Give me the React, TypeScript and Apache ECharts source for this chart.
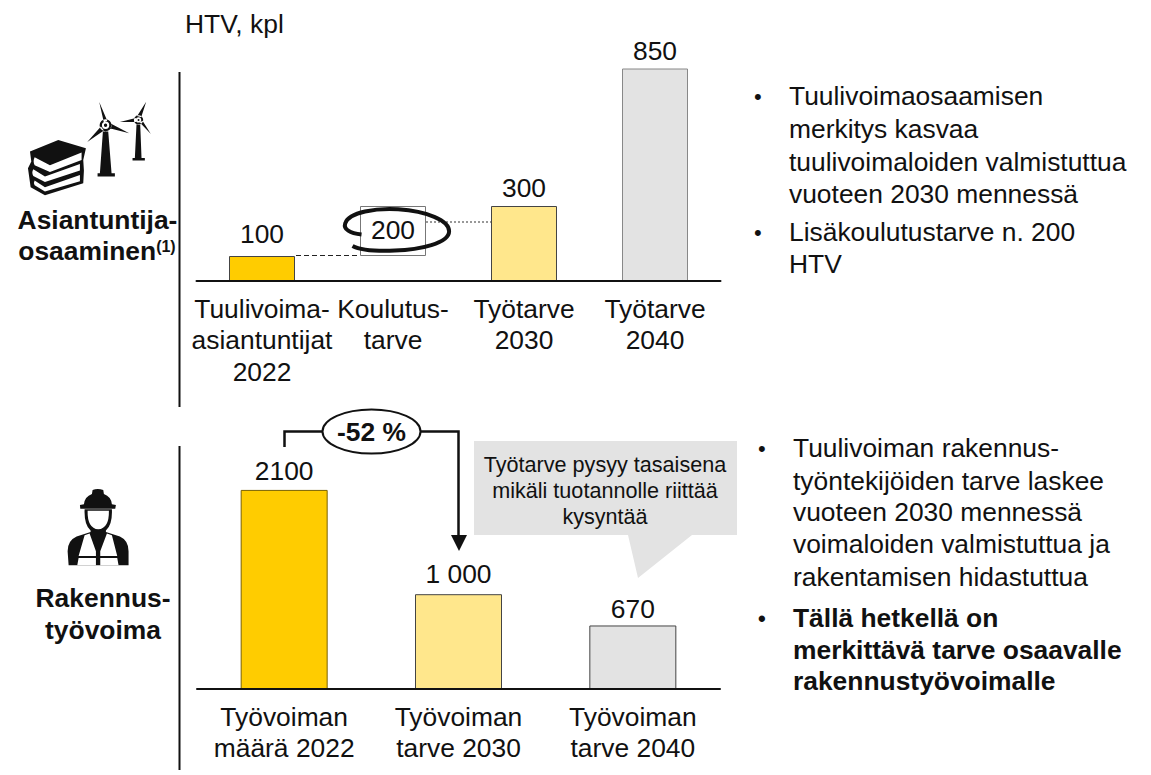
import React, { useEffect, useRef } from "react";
import * as echarts from "echarts";

const topCategories = ["Tuulivoima-\nasiantuntijat\n2022", "Koulutus-\ntarve", "Työtarve\n2030", "Työtarve\n2040"];
const topBase = [0, 100, 0, 0];
const topValues = [100, 200, 300, 850];
const bottomCategories = ["Työvoiman\nmäärä 2022", "Työvoiman\ntarve 2030", "Työvoiman\ntarve 2040"];
const bottomValues = [2100, 1000, 670];
const bottomLabels = ["2100", "1 000", "670"];
const topColors = ["#FFCC00", "#FFFFFF", "#FFE78C", "#E3E3E3"];
const bottomColors = ["#FFCC00", "#FFE78C", "#E3E3E3"];
const topBullets = [
  ["Tuulivoimaosaamisen", "merkitys kasvaa", "tuulivoimaloiden valmistuttua", "vuoteen 2030 mennessä"],
  ["Lisäkoulutustarve n. 200", "HTV"],
];
const bottomBulletA = ["Tuulivoiman rakennus-", "työntekijöiden tarve laskee", "vuoteen 2030 mennessä", "voimaloiden valmistuttua ja", "rakentamisen hidastuttua"];
const bottomBulletB = ["Tällä hetkellä on", "merkittävä tarve osaavalle", "rakennustyövoimalle"];
const calloutLines = ["Työtarve pysyy tasaisena", "mikäli tuotannolle riittää", "kysyntää"];
const topLabelGaps = [9, 5, 5, 5];
const bottomLabelGaps = [6, 7, 3];

const FONT = '"Liberation Sans", Arial, sans-serif';
const SIZE = 26.4;

echarts.graphic.registerShape("books", echarts.graphic.extendPath(
  "M90 215 L175 180 L258 205 L250 240 L252 272 L250 310 L135 346 L92 322 L84 265 L94 245 Z", {}));
echarts.graphic.registerShape("bookPages", echarts.graphic.extendPath(
  "M104 232 L150 256 L245 218 L245 240 L150 276 L104 256 Q98 244 104 232 Z M100 268 L135 290 L240 252 L240 272 L135 306 L100 288 Q94 278 100 268 Z M104 302 L135 322 L240 285 L240 304 L135 335 L104 316 Q100 308 104 302 Z", {}));
echarts.graphic.registerShape("turbines", echarts.graphic.extendPath(
  "M298 66 L322 122 L312 128 Z M388 160 L332 146 L335 132 Z M262 186 L303 140 L312 152 Z M309 155 L325 155 L335 280 L345 280 L345 290 L293 290 L293 280 L300 280 Z " +
  "M439 65 L424 112 L412 108 Z M360 126 L408 114 L410 126 Z M453 162 L420 128 L428 122 Z M410 132 L421 132 L425 234 L435 234 L435 242 L398 242 L398 234 L405 234 Z " +
  "M317 118 A 18 18 0 1 0 317.1 154 A 18 18 0 1 0 317 118 Z M416 106 A 14 14 0 1 0 416.1 134 A 14 14 0 1 0 416 106 Z", {}));
echarts.graphic.registerShape("hubs", echarts.graphic.extendPath(
  "M317 125 A 11 11 0 1 0 317.1 147 A 11 11 0 1 0 317 125 Z M416 112 A 8 8 0 1 0 416.1 128 A 8 8 0 1 0 416 112 Z", {}));
echarts.graphic.registerShape("hubDots", echarts.graphic.extendPath(
  "M317 131 A 5 5 0 1 0 317.1 141 A 5 5 0 1 0 317 131 Z M416 117 A 3 3 0 1 0 416.1 123 A 3 3 0 1 0 416 117 Z", {}));
echarts.graphic.registerShape("workerBlack", echarts.graphic.extendPath(
  "M218 60 Q233 54 250 60 L252 72 Q274 80 276 103 L288 105 L286 116 L181 116 L180 105 L192 103 Q194 80 216 72 Z " +
  "M194 118 L276 118 Q278 165 258 182 L258 186 L300 200 Q326 212 326 244 L326 286 L146 286 L143 244 Q143 212 170 200 L212 186 L212 182 Q192 165 194 118 Z", {}));
echarts.graphic.registerShape("workerWhite", echarts.graphic.extendPath(
  "M203 122 L267 122 Q268 175 235 178 Q202 175 203 122 Z " +
  "M194 196 L209 191 L228 244 L228 258 L176 258 Z M276 196 L261 191 L241 244 L241 258 L292 258 Z " +
  "M176 264 L228 264 L228 286 L172 286 Z M241 264 L292 264 L296 286 L241 286 Z", {}));
echarts.graphic.registerShape("scribble", echarts.graphic.extendPath(
  "M425 194 C390 190 370 178 376 160 C388 126 470 114 535 118 C620 124 688 150 688 184 C688 220 600 240 525 242 C470 244 420 240 398 228", {}));

function txt(x: number, y: number, text: string, opts: any = {}) {
  return {
    type: "text", x, y, z: 20,
    style: {
      text, fill: opts.fill ?? "#111", fontFamily: FONT,
      fontSize: opts.size ?? SIZE, fontWeight: opts.weight ?? "normal",
      textAlign: opts.align ?? "left", textVerticalAlign: "middle",
      rich: opts.rich,
    },
  };
}

function line(x1: number, y1: number, x2: number, y2: number, stroke: string, lineWidth: number, lineDash?: number[]) {
  return { type: "line", z: 10, shape: { x1, y1, x2, y2 }, style: { stroke, lineWidth, lineDash } };
}

function icon(type: string, x: number, y: number, fill: string) {
  return { type, x, y, scaleX: 1 / 3, scaleY: 1 / 3, z: 15, style: { fill } };
}

function textBlock(x: number, ys: number[], lines: string[], opts: any = {}) {
  return lines.map((t, i) => txt(x, ys[i], t, opts));
}

const axisCommon = (gridIndex: number, data: string[]) => ({
  type: "category" as const,
  gridIndex,
  data,
  z: 8,
  axisTick: { show: false },
  axisLine: { lineStyle: { color: "#111", width: 2 }, onZero: true },
  axisLabel: { interval: 0, color: "#111", fontFamily: FONT, fontSize: SIZE, lineHeight: 31.5, margin: 12 },
});

export default function App() {
  const ref = useRef<HTMLDivElement>(null);
  useEffect(() => {
    const chart = echarts.init(ref.current!, undefined, { renderer: "svg" });
    const valueLabel = { show: true, position: "top" as const, distance: 5, color: "#111", fontFamily: FONT, fontSize: SIZE };
    const bold = { weight: "bold", align: "center" };
    const graphic: any[] = [
      txt(185, 24, "HTV, kpl"),
      line(179.5, 72, 179.5, 407, "#111", 2),
      line(179.5, 446, 179.5, 770, "#111", 2),
      line(296, 255.5, 360, 255.5, "#222", 1, [5, 3]),
      line(426, 222, 491, 222, "#777", 1.5, [2, 2]),
      { type: "scribble", x: 220, y: 170, scaleX: 1 / 3, scaleY: 1 / 3, z: 16, style: { fill: "none", stroke: "#111", lineWidth: 12 } },
      icon("books", 0, 80, "#111"),
      icon("bookPages", 0, 80, "#fff"),
      icon("turbines", 0, 80, "#111"),
      icon("hubs", 0, 80, "#fff"),
      icon("hubDots", 0, 80, "#111"),
      icon("workerBlack", 20, 470, "#111"),
      icon("workerWhite", 20, 470, "#fff"),
      txt(97.5, 220, "Asiantuntija-", bold),
      txt(97, 251, "osaaminen{sup|(1)}", {
        ...bold,
        rich: { sup: { fontSize: 16, fontWeight: "bold", fontFamily: FONT, fill: "#111", verticalAlign: "top", padding: [0, 0, 8, 0] } },
      }),
      txt(103, 598, "Rakennus-", bold),
      txt(103, 630, "työvoima", bold),
      { type: "polyline", z: 10, shape: { points: [[284.5, 447], [284.5, 431.5], [458.5, 431.5], [458.5, 540]] }, style: { fill: "none", stroke: "#111", lineWidth: 2.5 } },
      { type: "polygon", z: 10, shape: { points: [[451, 535], [467, 535], [459, 551]] }, style: { fill: "#111" } },
      { type: "ellipse", z: 11, shape: { cx: 371.5, cy: 431.5, rx: 49, ry: 22 }, style: { fill: "#fff", stroke: "#111", lineWidth: 2 } },
      txt(371.5, 432, "-52 %", bold),
      { type: "polygon", z: 9, shape: { points: [[474, 441], [737, 441], [737, 535], [692, 535], [638, 578], [628, 535], [474, 535]] }, style: { fill: "#E3E3E3" } },
      ...textBlock(605, [464, 490, 516], calloutLines, { size: 21.6, align: "center" }),
      txt(754, 96, "•", { size: 22 }),
      ...textBlock(789, [96, 129, 162, 194], topBullets[0]),
      txt(754, 232, "•", { size: 22 }),
      ...textBlock(789, [232, 264], topBullets[1]),
      txt(758, 448, "•", { size: 22 }),
      ...textBlock(793, [448, 481, 512, 544, 577], bottomBulletA),
      txt(758, 618, "•", { size: 22, weight: "bold" }),
      ...textBlock(793, [618, 650, 681], bottomBulletB, { weight: "bold" }),
    ];
    chart.setOption({
      animation: false,
      backgroundColor: "#fff",
      grid: [
        { left: 196.5, width: 524, top: 31, height: 250 },
        { left: 197, width: 523, top: 404.6, height: 284.4 },
      ],
      xAxis: [axisCommon(0, topCategories), axisCommon(1, bottomCategories)],
      yAxis: [
        { type: "value", gridIndex: 0, min: 0, max: 1000, show: false },
        { type: "value", gridIndex: 1, min: 0, max: 3000, show: false },
      ],
      series: [
        {
          type: "bar", name: "base", xAxisIndex: 0, yAxisIndex: 0, stack: "top", barWidth: 66,
          data: topBase, itemStyle: { color: "transparent" }, silent: true,
        },
        {
          type: "bar", name: "HTV", xAxisIndex: 0, yAxisIndex: 0, stack: "top", barWidth: 66,
          data: topValues.map((value, i) => ({
            value,
            itemStyle: { color: topColors[i], borderColor: i === 1 ? "#777" : i === 3 ? "#888" : "#444", borderWidth: 1 },
            label: i === 1
              ? { ...valueLabel, position: "inside" as const, offset: [0, -1] }
              : { ...valueLabel, distance: topLabelGaps[i] },
          })),
        },
        {
          type: "bar", name: "Rakennus", xAxisIndex: 1, yAxisIndex: 1, barWidth: 87,
          data: bottomValues.map((value, i) => ({
            value,
            itemStyle: { color: bottomColors[i], borderColor: i === 0 ? "#7a6200" : "#444", borderWidth: 1 },
            label: { ...valueLabel, distance: bottomLabelGaps[i], formatter: () => bottomLabels[i] },
          })),
        },
      ],
      graphic,
    });
    return () => chart.dispose();
  }, []);
  return <div ref={ref} style={{ position: "fixed", left: 0, top: 0, width: 1151, height: 775, background: "#fff" }} />;
}
